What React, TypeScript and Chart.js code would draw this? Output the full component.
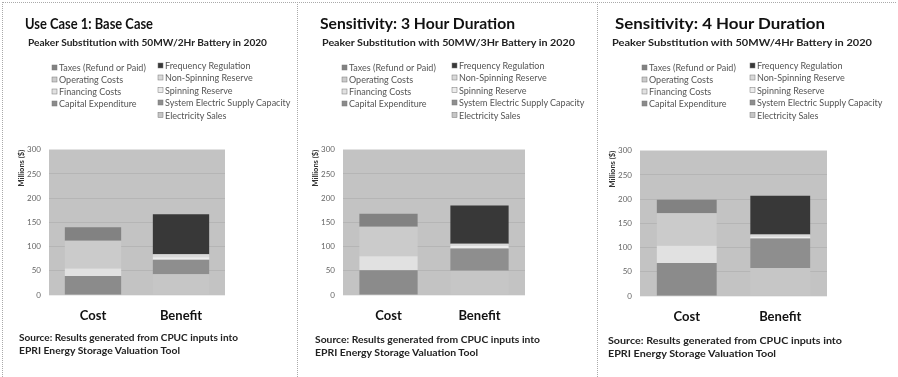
import React, { useEffect, useRef } from "react";
import { Chart, registerables } from "chart.js";

Chart.register(...registerables);

// ---------- data ----------
const categories = ["Cost", "Benefit"];
const costSeries = ["Capital Expenditure", "Financing Costs", "Operating Costs", "Taxes (Refund or Paid)"];
const benefitSeries = [
  "Electricity Sales",
  "System Electric Supply Capacity",
  "Spinning Reserve",
  "Non-Spinning Reserve",
  "Frequency Regulation",
];
const costColors = ["#8b8b8b", "#e1e1e1", "#cbcbcb", "#828282"];
const benefitColors = ["#c6c6c6", "#8e8e8e", "#ececec", "#d9d9d9", "#383838"];

const baseCaseCost = [39, 16, 57, 28];
const baseCaseBenefit = [43, 30, 5, 6, 83];
const hour3Cost = [51, 29, 61, 27];
const hour3Benefit = [50, 46, 5, 5, 79];
const hour4Cost = [68, 36, 67, 28];
const hour4Benefit = [58, 61, 4, 4, 80];

const yMin = 0;
const yMax = 300;
const yStep = 50;
const yAxisTitle = "Millions ($)";

const panelTitles = ["Use Case 1: Base Case", "Sensitivity: 3 Hour Duration", "Sensitivity: 4 Hour Duration"];
const panelSubtitles = [
  "Peaker Substitution with 50MW/2Hr Battery in 2020",
  "Peaker Substitution with 50MW/3Hr Battery in 2020",
  "Peaker Substitution with 50MW/4Hr Battery in 2020",
];
const sourceLines = ["Source: Results generated from CPUC inputs into", "EPRI Energy Storage Valuation Tool"];

// ---------- layout ----------
const FONT = "Lato, 'Open Sans', 'DejaVu Sans', sans-serif";

type Layout = {
  ox: number;
  w: number;
  titleX: number;
  titleW: number;
  subX: number;
  subW: number;
  legL: number;
  legR: number;
  plotL: number;
  plotR: number;
  plotT: number;
  plotB: number;
  srcX: number;
  srcW1: number;
  srcW2: number;
  srcY: number;
};

const layouts: Layout[] = [
  { ox: 0, w: 297, titleX: 25, titleW: 128, subX: 28, subW: 239, legL: 52, legR: 158, plotL: 49, plotR: 225, plotT: 145, plotB: 295, srcX: 19, srcW1: 219, srcW2: 161, srcY: 338 },
  { ox: 297, w: 300, titleX: 23, titleW: 195, subX: 25, subW: 253, legL: 45, legR: 155, plotL: 46, plotR: 228, plotT: 145, plotB: 295, srcX: 18, srcW1: 225, srcW2: 163, srcY: 340 },
  { ox: 597, w: 301, titleX: 18, titleW: 210, subX: 15, subW: 260, legL: 45, legR: 153, plotL: 43, plotR: 230, plotT: 146, plotB: 296, srcX: 11, srcW1: 234, srcW2: 168, srcY: 341 },
];

const Y_AXIS_W = 36;
const X_AXIS_H = 36;
const PAD_T = 8;
const PAD_R = 8;

const plotBgPlugin = {
  id: "plotBg",
  beforeDraw(chart: any) {
    const { ctx, chartArea } = chart;
    if (!chartArea) return;
    ctx.save();
    ctx.fillStyle = "#c3c3c3";
    ctx.fillRect(chartArea.left, chartArea.top, chartArea.right - chartArea.left, chartArea.bottom - chartArea.top);
    ctx.restore();
  },
};

function StackChart({ cost, benefit, lay }: { cost: number[]; benefit: number[]; lay: Layout }) {
  const ref = useRef<HTMLCanvasElement | null>(null);
  const left = lay.plotL - Y_AXIS_W;
  const top = lay.plotT - PAD_T;
  const width = lay.plotR - lay.plotL + Y_AXIS_W + PAD_R;
  const height = lay.plotB - lay.plotT + PAD_T + X_AXIS_H;

  useEffect(() => {
    if (!ref.current) return;
    const datasets: any[] = [
      ...costSeries.map((name, i) => ({
        label: name,
        data: [cost[i], null],
        backgroundColor: costColors[i],
        stack: "s",
        barPercentage: 0.64,
        categoryPercentage: 1,
      })),
      ...benefitSeries.map((name, i) => ({
        label: name,
        data: [null, benefit[i]],
        backgroundColor: benefitColors[i],
        stack: "s",
        barPercentage: 0.64,
        categoryPercentage: 1,
      })),
    ];
    const chart = new Chart(ref.current, {
      type: "bar",
      data: { labels: categories, datasets },
      options: {
        animation: false,
        responsive: false,
        maintainAspectRatio: false,
        layout: { padding: { left: 0, right: PAD_R, top: PAD_T, bottom: 0 } },
        plugins: { legend: { display: false }, tooltip: { enabled: false } },
        scales: {
          x: {
            stacked: true,
            grid: { display: false },
            border: { display: false },
            ticks: {
              font: { family: FONT, size: 13, weight: "bold" },
              color: "#111",
              padding: 5,
              maxRotation: 0,
            },
            afterFit: (s: any) => {
              s.height = X_AXIS_H;
            },
          },
          y: {
            stacked: true,
            min: yMin,
            max: yMax,
            ticks: {
              stepSize: yStep,
              font: { family: FONT, size: 8 },
              color: "#666",
              padding: 8,
            },
            grid: { color: "rgba(0,0,0,0.07)", drawTicks: false },
            border: { display: false },
            title: {
              display: true,
              text: yAxisTitle,
              align: "end",
              font: { family: FONT, size: 7.5, weight: "bold" },
              color: "#333",
              padding: { top: 4, bottom: 0 },
            },
            afterFit: (s: any) => {
              s.width = Y_AXIS_W;
            },
          },
        },
      } as any,
      plugins: [plotBgPlugin],
    });
    return () => chart.destroy();
  }, []);

  return (
    <canvas
      ref={ref}
      width={width}
      height={height}
      style={{ position: "absolute", left, top, width, height }}
    />
  );
}

function Panel({ idx, cost, benefit }: { idx: number; cost: number[]; benefit: number[] }) {
  const lay = layouts[idx];
  const leftLegend = [...costSeries.map((n, i) => ({ n, c: costColors[i] }))].reverse();
  const rightLegend = [...benefitSeries.map((n, i) => ({ n, c: benefitColors[i] }))].reverse();
  const leftRows = [68, 80, 92, 104];
  const rightRows = [66, 78, 90.5, 103, 115.5];
  return (
    <div
      style={{
        position: "absolute",
        left: lay.ox,
        top: 0,
        width: lay.w,
        height: 377,
        overflow: "hidden",
      }}
    >
      <StackChart cost={cost} benefit={benefit} lay={lay} />
      <svg
        width={lay.w}
        height={377}
        style={{ position: "absolute", left: 0, top: 0, pointerEvents: "none" }}
      >
        <text
          x={lay.titleX}
          y={29}
          textLength={lay.titleW}
          lengthAdjust="spacingAndGlyphs"
          fontFamily={FONT}
          fontWeight="bold"
          fontSize={16}
          fill="#111"
        >
          {panelTitles[idx]}
        </text>
        <text
          x={lay.subX}
          y={46}
          textLength={lay.subW}
          lengthAdjust="spacingAndGlyphs"
          fontFamily={FONT}
          fontWeight="bold"
          fontSize={8.5}
          fill="#222"
        >
          {panelSubtitles[idx]}
        </text>
        {leftLegend.map((it, i) => (
          <g key={"l" + i}>
            <rect x={lay.legL} y={leftRows[i] - 3} width={5} height={5} fill={it.c} stroke="#777" strokeWidth={0.5} />
            <text x={lay.legL + 7} y={leftRows[i] + 3} fontFamily={FONT} fontSize={9} fill="#555">
              {it.n}
            </text>
          </g>
        ))}
        {rightLegend.map((it, i) => (
          <g key={"r" + i}>
            <rect x={lay.legR} y={rightRows[i] - 3} width={5} height={5} fill={it.c} stroke="#777" strokeWidth={0.5} />
            <text x={lay.legR + 7} y={rightRows[i] + 3} fontFamily={FONT} fontSize={9} fill="#555">
              {it.n}
            </text>
          </g>
        ))}
        <text
          x={lay.srcX}
          y={lay.srcY + 3}
          textLength={lay.srcW1}
          lengthAdjust="spacingAndGlyphs"
          fontFamily={FONT}
          fontWeight="bold"
          fontSize={8.5}
          fill="#222"
        >
          {sourceLines[0]}
        </text>
        <text
          x={lay.srcX}
          y={lay.srcY + 16}
          textLength={lay.srcW2}
          lengthAdjust="spacingAndGlyphs"
          fontFamily={FONT}
          fontWeight="bold"
          fontSize={8.5}
          fill="#222"
        >
          {sourceLines[1]}
        </text>
      </svg>
    </div>
  );
}

export default function App() {
  return (
    <div
      style={{
        position: "absolute",
        left: 0,
        top: 0,
        width: 898,
        height: 377,
        background: "#fff",
        overflow: "hidden",
        fontFamily: FONT,
      }}
    >
      <Panel idx={0} cost={baseCaseCost} benefit={baseCaseBenefit} />
      <Panel idx={1} cost={hour3Cost} benefit={hour3Benefit} />
      <Panel idx={2} cost={hour4Cost} benefit={hour4Benefit} />
      <div style={{ position: "absolute", left: 2, top: 2, width: 894, height: 0, borderTop: "1px dotted #aaa" }} />
      <div style={{ position: "absolute", left: 2, top: 2, width: 0, height: 375, borderLeft: "1px dotted #aaa" }} />
      <div style={{ position: "absolute", left: 297, top: 2, width: 0, height: 375, borderLeft: "1px dotted #aaa" }} />
      <div style={{ position: "absolute", left: 597, top: 2, width: 0, height: 375, borderLeft: "1px dotted #aaa" }} />
    </div>
  );
}
